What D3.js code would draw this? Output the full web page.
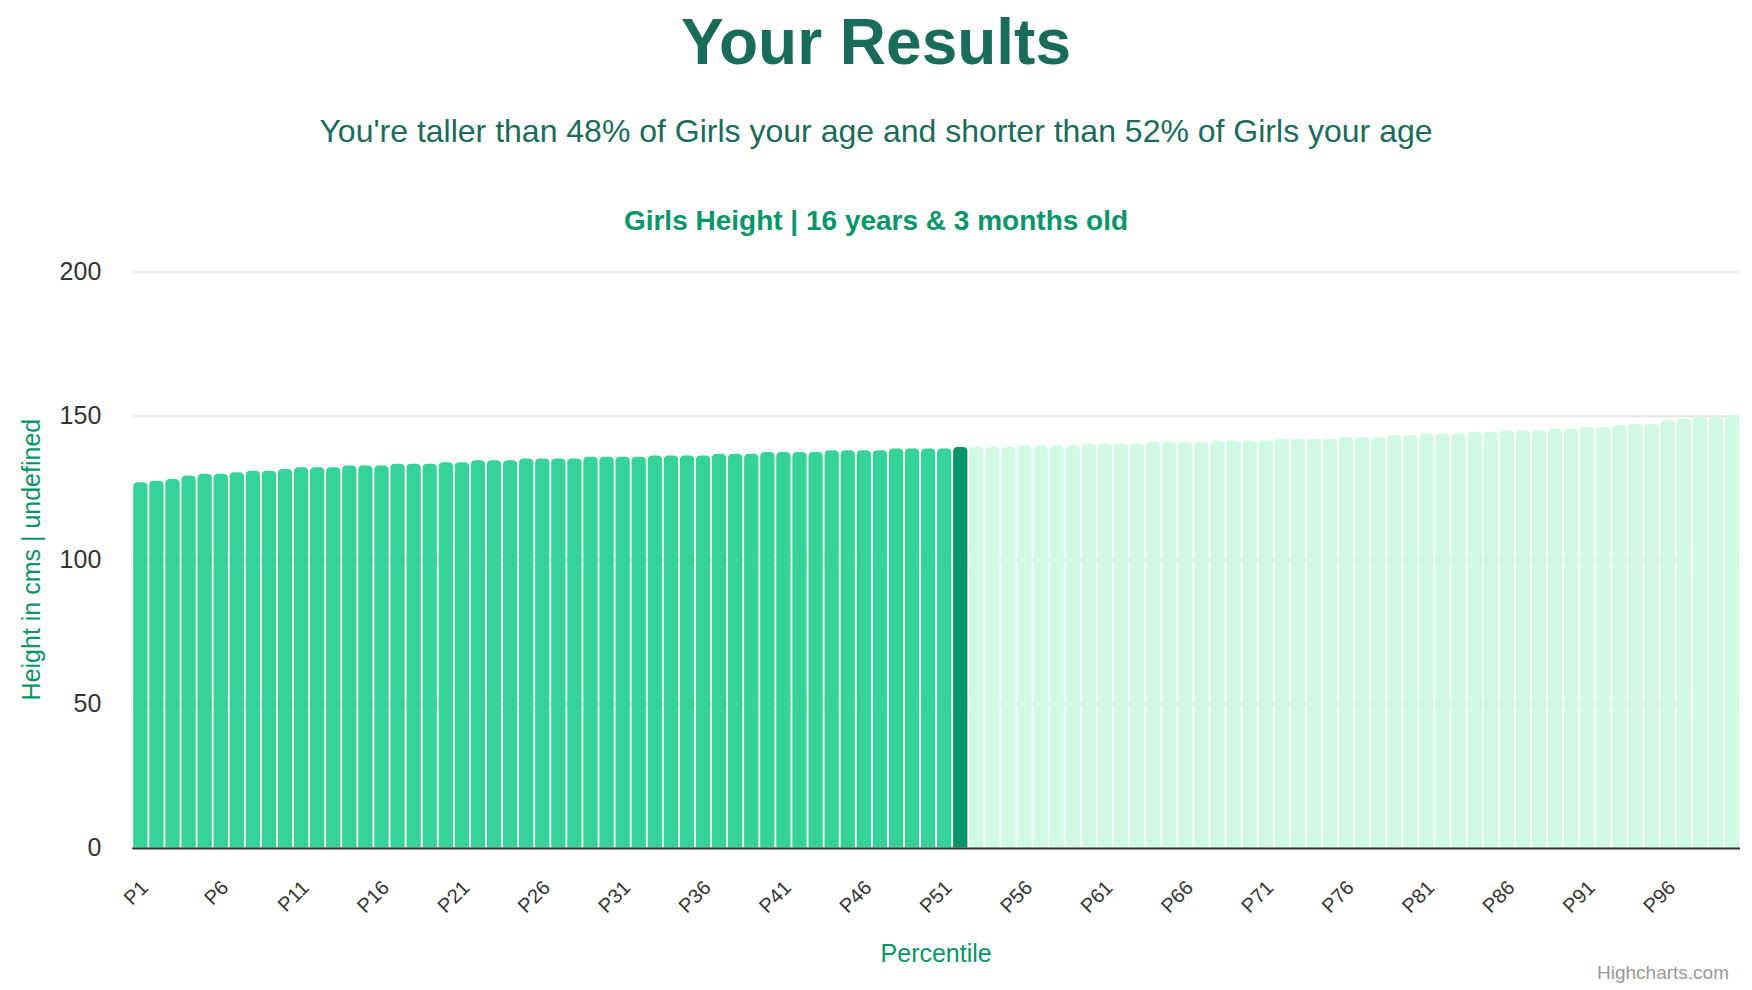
<!DOCTYPE html>
<html>
<head>
<meta charset="utf-8">
<script src="https://cdn.jsdelivr.net/npm/d3@7"></script>
<style>
  html, body { margin: 0; padding: 0; background: #ffffff; }
  svg { display: block; font-family: "Liberation Sans", Arial, Helvetica, sans-serif; }
</style>
</head>
<body>
<svg id="chart" width="1752" height="990"></svg>
<script>
// ---- data ----
const categories = d3.range(1, 101).map(i => "P" + i);
const heights = [
  126.9, 127.4, 128.0, 129.2, 129.8, 129.8, 130.3, 130.9, 130.9, 131.5,
  132.1, 132.1, 132.1, 132.7, 132.7, 132.7, 133.3, 133.3, 133.3, 133.8,
  133.8, 134.5, 134.5, 134.5, 135.1, 135.1, 135.1, 135.1, 135.7, 135.7,
  135.7, 135.7, 136.2, 136.2, 136.2, 136.2, 136.8, 136.8, 136.8, 137.4,
  137.4, 137.4, 137.4, 138.0, 138.0, 138.0, 138.0, 138.6, 138.6, 138.6,
  138.6, 139.1, 139.1, 139.1, 139.1, 139.7, 139.7, 139.7, 139.7, 140.3,
  140.3, 140.3, 140.3, 140.9, 140.9, 140.9, 140.9, 141.4, 141.4, 141.4,
  141.4, 142.0, 142.0, 142.0, 142.0, 142.6, 142.6, 142.6, 143.2, 143.2,
  143.8, 143.8, 143.8, 144.3, 144.3, 144.9, 144.9, 144.9, 145.5, 145.5,
  146.1, 146.1, 146.7, 147.2, 147.2, 148.4, 149.0, 149.5, 149.5, 150.1
];
const userPercentile = "P52";
const xTickLabels = ["P1","P6","P11","P16","P21","P26","P31","P36","P41","P46",
                     "P51","P56","P61","P66","P71","P76","P81","P86","P91","P96"];
const yTickValues = [0, 50, 100, 150, 200];

const titleText = "Your Results";
const subtitleText = "You're taller than 48% of Girls your age and shorter than 52% of Girls your age";
const chartTitleText = "Girls Height | 16 years & 3 months old";
const yAxisTitle = "Height in cms | undefined";
const xAxisTitle = "Percentile";
const creditsText = "Highcharts.com";

// ---- layout ----
const W = 1752, H = 990;
const plot = { left: 132.3, right: 1740, top: 271.7, bottom: 847.5 };
const colBelow = "#35d399", colUser = "#079669", colAbove = "#d1fae5";
const darkTitle = "#196c5a", green = "#079669";

const svg = d3.select("#chart");

const x = d3.scaleBand().domain(categories).range([plot.left, plot.right]).paddingInner(0).paddingOuter(0);
const y = d3.scaleLinear().domain([0, 200]).range([plot.bottom, plot.top]);

// titles
svg.append("text").attr("x", W / 2).attr("y", 64).attr("text-anchor", "middle")
  .attr("font-size", 64).attr("font-weight", "bold").attr("fill", darkTitle).text(titleText);
svg.append("text").attr("x", W / 2).attr("y", 142).attr("text-anchor", "middle")
  .attr("font-size", 32).attr("fill", darkTitle).text(subtitleText);
svg.append("text").attr("x", W / 2).attr("y", 230).attr("text-anchor", "middle")
  .attr("font-size", 28).attr("font-weight", "bold").attr("fill", green).text(chartTitleText);

// y grid + labels
const yAxis = d3.axisLeft(y).tickValues(yTickValues).tickSize(-(plot.right - plot.left)).tickPadding(31);
const gy = svg.append("g").attr("transform", `translate(${plot.left},0)`).call(yAxis);
gy.select(".domain").remove();
gy.selectAll(".tick line").attr("stroke", "#e6e6e6").attr("stroke-width", 2);
gy.selectAll(".tick text").attr("font-size", 25).attr("fill", "#333333")
  .attr("font-family", "'Liberation Sans', Arial, sans-serif");

// bars
const userIdx = categories.indexOf(userPercentile);
const r = 4.5;
function barPath(x0, w, yTop, yBot) {
  const rr = Math.min(r, w / 2, (yBot - yTop));
  return `M${x0},${yBot} L${x0},${yTop + rr} Q${x0},${yTop} ${x0 + rr},${yTop} ` +
         `L${x0 + w - rr},${yTop} Q${x0 + w},${yTop} ${x0 + w},${yTop + rr} L${x0 + w},${yBot} Z`;
}
const gap = 0.9;
svg.append("g").selectAll("path").data(heights).join("path")
  .attr("d", (d, i) => barPath(x(categories[i]) + gap, x.bandwidth() - 2 * gap, y(d), y(0)))
  .attr("fill", (d, i) => i < userIdx ? colBelow : (i === userIdx ? colUser : colAbove));

// x axis line
svg.append("line").attr("x1", plot.left).attr("x2", plot.right)
  .attr("y1", plot.bottom + 1).attr("y2", plot.bottom + 1)
  .attr("stroke", "#333333").attr("stroke-width", 2);

// x labels (rotated)
const gx = svg.append("g");
gx.selectAll("text").data(xTickLabels).join("text")
  .attr("transform", d => `translate(${x(d) + x.bandwidth() / 2 + 9},889) rotate(-45)`)
  .attr("text-anchor", "end").attr("font-size", 20).attr("fill", "#333333").text(d => d);

// axis titles
svg.append("text").attr("transform", `translate(40,${(plot.top + plot.bottom) / 2}) rotate(-90)`)
  .attr("text-anchor", "middle").attr("font-size", 25).attr("fill", green).text(yAxisTitle);
svg.append("text").attr("x", (plot.left + plot.right) / 2).attr("y", 962)
  .attr("text-anchor", "middle").attr("font-size", 25).attr("fill", green).text(xAxisTitle);

// credits
svg.append("text").attr("x", 1729).attr("y", 979).attr("text-anchor", "end")
  .attr("font-size", 19).attr("fill", "#999999").text(creditsText);
</script>
</body>
</html>
